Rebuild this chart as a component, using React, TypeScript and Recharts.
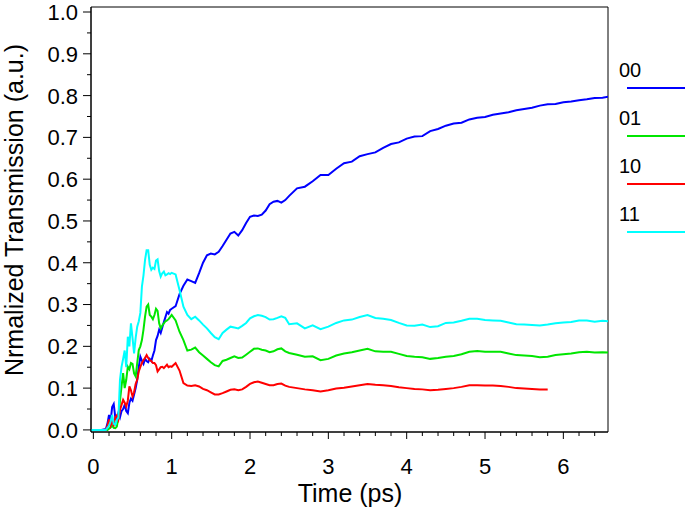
import React from 'react';
import { LineChart, Line, XAxis, YAxis, Legend, ReferenceArea } from 'recharts';

const FONT = '"Liberation Sans", Arial, Helvetica, sans-serif';

const time = [
  -0.03, 0.1, 0.16, 0.18, 0.2, 0.22, 0.24, 0.26, 0.28, 0.3,
  0.32, 0.34, 0.36, 0.38, 0.4, 0.42, 0.44, 0.46, 0.48, 0.5,
  0.52, 0.54, 0.56, 0.58, 0.6, 0.62, 0.64, 0.66, 0.68, 0.7,
  0.72, 0.74, 0.76, 0.78, 0.8, 0.82, 0.84, 0.86, 0.88, 0.9,
  0.92, 0.94, 0.96, 0.98, 1.0, 1.05, 1.1, 1.15, 1.2, 1.25,
  1.3, 1.35, 1.4, 1.45, 1.5, 1.55, 1.6, 1.65, 1.7, 1.75,
  1.8, 1.85, 1.9, 1.95, 2.0, 2.05, 2.1, 2.15, 2.2, 2.25,
  2.3, 2.35, 2.4, 2.45, 2.5, 2.6, 2.7, 2.8, 2.9, 3.0,
  3.1, 3.2, 3.3, 3.4, 3.5, 3.6, 3.7, 3.8, 3.9, 4.0,
  4.1, 4.2, 4.3, 4.4, 4.5, 4.6, 4.7, 4.8, 4.9, 5.0,
  5.1, 5.2, 5.3, 5.4, 5.5, 5.6, 5.7, 5.8, 5.9, 6.0,
  6.1, 6.2, 6.3, 6.4, 6.5, 6.57,
];

const s00 = [
  0, 0, 0.002, 0.015, 0.036, 0.02, 0.055, 0.062, 0.03, 0.022,
  0.04, 0.03, 0.045, 0.05, 0.06, 0.045, 0.04, 0.065, 0.075, 0.07,
  0.085, 0.1, 0.12, 0.15, 0.175, 0.165, 0.158, 0.17, 0.165, 0.162,
  0.17, 0.165, 0.178, 0.19, 0.215, 0.225, 0.24, 0.232, 0.245, 0.258,
  0.27, 0.282, 0.278, 0.287, 0.29, 0.296, 0.325, 0.345, 0.36, 0.356,
  0.352, 0.375, 0.4, 0.418, 0.422, 0.42, 0.426, 0.44, 0.455, 0.47,
  0.474, 0.465, 0.478, 0.495, 0.51, 0.513, 0.512, 0.515, 0.525, 0.54,
  0.546, 0.548, 0.544, 0.55, 0.56, 0.578, 0.582, 0.595, 0.61, 0.61,
  0.625, 0.638, 0.642, 0.655, 0.66, 0.664, 0.675, 0.684, 0.688, 0.697,
  0.702, 0.703, 0.715, 0.72, 0.728, 0.733, 0.735, 0.743, 0.747, 0.749,
  0.754, 0.757, 0.76, 0.765, 0.768, 0.771, 0.776, 0.779, 0.78, 0.784,
  0.786, 0.789, 0.791, 0.794, 0.795, 0.797,
];

const s01 = [
  0, 0, 0, 0, 0.003, 0.006, 0.01, 0.005, 0.004, 0.008,
  0.03, 0.07, 0.104, 0.136, 0.1, 0.12, 0.151, 0.145, 0.16, 0.158,
  0.135, 0.128, 0.16, 0.191, 0.2, 0.215, 0.24, 0.271, 0.295, 0.3,
  0.275, 0.271, 0.265, 0.275, 0.29, 0.285, 0.255, 0.243, 0.25, 0.255,
  0.26, 0.262, 0.265, 0.27, 0.275, 0.262, 0.235, 0.215, 0.19, 0.192,
  0.197, 0.186, 0.178, 0.17, 0.162, 0.155, 0.152, 0.165, 0.168, 0.172,
  0.176, 0.172, 0.173, 0.18, 0.187, 0.194, 0.195, 0.192, 0.19, 0.186,
  0.188, 0.193, 0.195, 0.188, 0.184, 0.18, 0.175, 0.176, 0.167, 0.17,
  0.178, 0.183, 0.186, 0.19, 0.194, 0.188, 0.187, 0.187, 0.182, 0.177,
  0.175, 0.174, 0.17, 0.172, 0.175, 0.177, 0.181, 0.187, 0.189, 0.187,
  0.187, 0.187, 0.183, 0.179, 0.178, 0.177, 0.174, 0.175, 0.179, 0.181,
  0.183, 0.186, 0.187, 0.185, 0.186, 0.185,
];

const s10 = [
  0, 0, 0, 0.01, 0.025, 0.01, 0.02, 0.012, 0.03, 0.035,
  0.025, 0.048, 0.06, 0.072, 0.065, 0.056, 0.07, 0.104, 0.095, 0.08,
  0.09, 0.11, 0.12, 0.14, 0.151, 0.16, 0.167, 0.172, 0.179, 0.172,
  0.167, 0.165, 0.16, 0.16, 0.155, 0.14, 0.145, 0.15, 0.151, 0.148,
  0.152, 0.156, 0.15, 0.152, 0.151, 0.16, 0.142, 0.112, 0.106, 0.105,
  0.107, 0.104, 0.098, 0.095, 0.09, 0.085, 0.085, 0.088, 0.092, 0.096,
  0.097, 0.095, 0.097, 0.103, 0.11, 0.114, 0.116, 0.113, 0.11, 0.107,
  0.107, 0.11, 0.111, 0.106, 0.103, 0.1, 0.097, 0.095, 0.092, 0.095,
  0.099, 0.101, 0.104, 0.107, 0.11, 0.108, 0.107, 0.105, 0.102, 0.1,
  0.098, 0.097, 0.095, 0.096, 0.098, 0.1, 0.103, 0.107, 0.107, 0.106,
  0.106, 0.105, 0.103, 0.1, 0.099, 0.098, 0.097, 0.097, null, null,
  null, null, null, null, null, null,
];

const s11 = [
  0, 0, 0, 0.005, 0.01, 0.02, 0.036, 0.015, 0.012, 0.024,
  0.03, 0.12, 0.151, 0.17, 0.19, 0.15, 0.223, 0.2, 0.255, 0.22,
  0.183, 0.22, 0.247, 0.26, 0.28, 0.343, 0.37, 0.407, 0.43, 0.43,
  0.395, 0.383, 0.388, 0.385, 0.405, 0.408, 0.38, 0.367, 0.375, 0.379,
  0.37, 0.372, 0.375, 0.373, 0.376, 0.372, 0.335, 0.295, 0.275, 0.265,
  0.271, 0.262, 0.252, 0.243, 0.232, 0.222, 0.217, 0.232, 0.24, 0.247,
  0.245, 0.243, 0.249, 0.256, 0.267, 0.272, 0.275, 0.273, 0.27, 0.264,
  0.265, 0.268, 0.272, 0.268, 0.253, 0.255, 0.243, 0.25, 0.241, 0.247,
  0.256, 0.262, 0.264, 0.27, 0.275, 0.268, 0.266, 0.263, 0.256, 0.25,
  0.249, 0.252, 0.246, 0.248, 0.256, 0.257, 0.261, 0.266, 0.266, 0.263,
  0.262, 0.261, 0.257, 0.253, 0.252, 0.251, 0.25, 0.252, 0.255, 0.257,
  0.258, 0.262, 0.262, 0.259, 0.261, 0.26,
];

const seriesNames = ['00', '01', '10', '11'];
const seriesKeys = ['s00', 's01', 's10', 's11'];
const seriesColors = ['#0000ff', '#00e600', '#ff0000', '#00ffff'];

const xDomain = [-0.03, 6.57];
const yDomain = [-0.005, 1.012];

const xTickValues = [
  0, 0.2, 0.4, 0.6, 0.8, 1, 1.2, 1.4, 1.6, 1.8, 2, 2.2, 2.4, 2.6, 2.8, 3,
  3.2, 3.4, 3.6, 3.8, 4, 4.2, 4.4, 4.6, 4.8, 5, 5.2, 5.4, 5.6, 5.8, 6, 6.2, 6.4,
];
const yTickValues = [
  0, 0.05, 0.1, 0.15, 0.2, 0.25, 0.3, 0.35, 0.4, 0.45, 0.5,
  0.55, 0.6, 0.65, 0.7, 0.75, 0.8, 0.85, 0.9, 0.95, 1.0,
];

const data = time.map((t, i) => ({
  t,
  s00: s00[i],
  s01: s01[i],
  s10: s10[i],
  s11: s11[i],
}));

const XTick = (props: any) => {
  const { x, y, payload } = props;
  const v = payload.value;
  const major = Math.abs(v - Math.round(v)) < 1e-6;
  return (
    <g>
      <line x1={x} x2={x} y1={y} y2={y + (major ? 7 : 4)} stroke="#000" strokeWidth={1} />
      {major && (
        <text x={x} y={y + 42} textAnchor="middle" fontSize={22} fontFamily={FONT} fill="#000">
          {String(Math.round(v))}
        </text>
      )}
    </g>
  );
};

const YTick = (props: any) => {
  const { x, y, payload } = props;
  const v = payload.value;
  const major = Math.abs(v * 10 - Math.round(v * 10)) < 1e-6;
  return (
    <g>
      <line x1={x - (major ? 8 : 4)} x2={x} y1={y} y2={y} stroke="#000" strokeWidth={1} />
      {major && (
        <text x={x - 13} y={y} dy="0.36em" textAnchor="end" fontSize={22} fontFamily={FONT} fill="#000">
          {v.toFixed(1)}
        </text>
      )}
    </g>
  );
};

const YTitle = () => (
  <text
    x={23}
    y={210}
    transform="rotate(-90 23 210)"
    textAnchor="middle"
    fontSize={25}
    fontFamily={FONT}
    fill="#000"
  >
    Nrmalized Transmission (a.u.)
  </text>
);

const XTitle = () => (
  <text x={350} y={502} textAnchor="middle" fontSize={25} fontFamily={FONT} fill="#000">
    Time (ps)
  </text>
);

const renderLegend = () => (
  <svg width={73} height={200} style={{ display: 'block' }}>
    {seriesNames.map((n, i) => (
      <g key={n}>
        <text x={7} y={27 + i * 48} fontSize={20} fontFamily={FONT} fill="#000">
          {n}
        </text>
        <line x1={15} x2={73} y1={38 + i * 48} y2={38 + i * 48} stroke={seriesColors[i]} strokeWidth={2} />
      </g>
    ))}
  </svg>
);

export default function App() {
  return (
    <div style={{ position: 'absolute', left: 0, top: 0, width: 685, height: 513, background: '#fff' }}>
      <LineChart
        width={685}
        height={513}
        data={data}
        margin={{ top: 7, right: 77, left: 0, bottom: 0 }}
      >
        <XAxis
          dataKey="t"
          type="number"
          domain={xDomain}
          ticks={xTickValues}
          interval={0}
          height={81}
          tickSize={0}
          tickMargin={0}
          tickLine={false}
          axisLine={{ stroke: '#000', strokeWidth: 1 }}
          tick={<XTick />}
          label={<XTitle />}
          allowDataOverflow
        />
        <YAxis
          type="number"
          domain={yDomain}
          ticks={yTickValues}
          interval={0}
          width={91}
          tickSize={0}
          tickMargin={0}
          tickLine={false}
          axisLine={{ stroke: '#000', strokeWidth: 1 }}
          tick={<YTick />}
          label={<YTitle />}
          allowDataOverflow
        />
        <ReferenceArea
          x1={xDomain[0]}
          x2={xDomain[1]}
          y1={yDomain[0]}
          y2={yDomain[1]}
          fill="none"
          fillOpacity={0}
          stroke="#000"
          strokeWidth={1}
          ifOverflow="visible"
        />
        <Legend
          layout="vertical"
          align="center"
          verticalAlign="middle"
          content={renderLegend}
          wrapperStyle={{ position: 'absolute', left: 612, top: 50, width: 73, height: 200 }}
        />
        {seriesKeys.map((k, i) => (
          <Line
            key={k}
            dataKey={k}
            name={seriesNames[i]}
            type="linear"
            stroke={seriesColors[i]}
            strokeWidth={2}
            dot={false}
            activeDot={false}
            isAnimationActive={false}
            connectNulls={false}
          />
        ))}
      </LineChart>
    </div>
  );
}
